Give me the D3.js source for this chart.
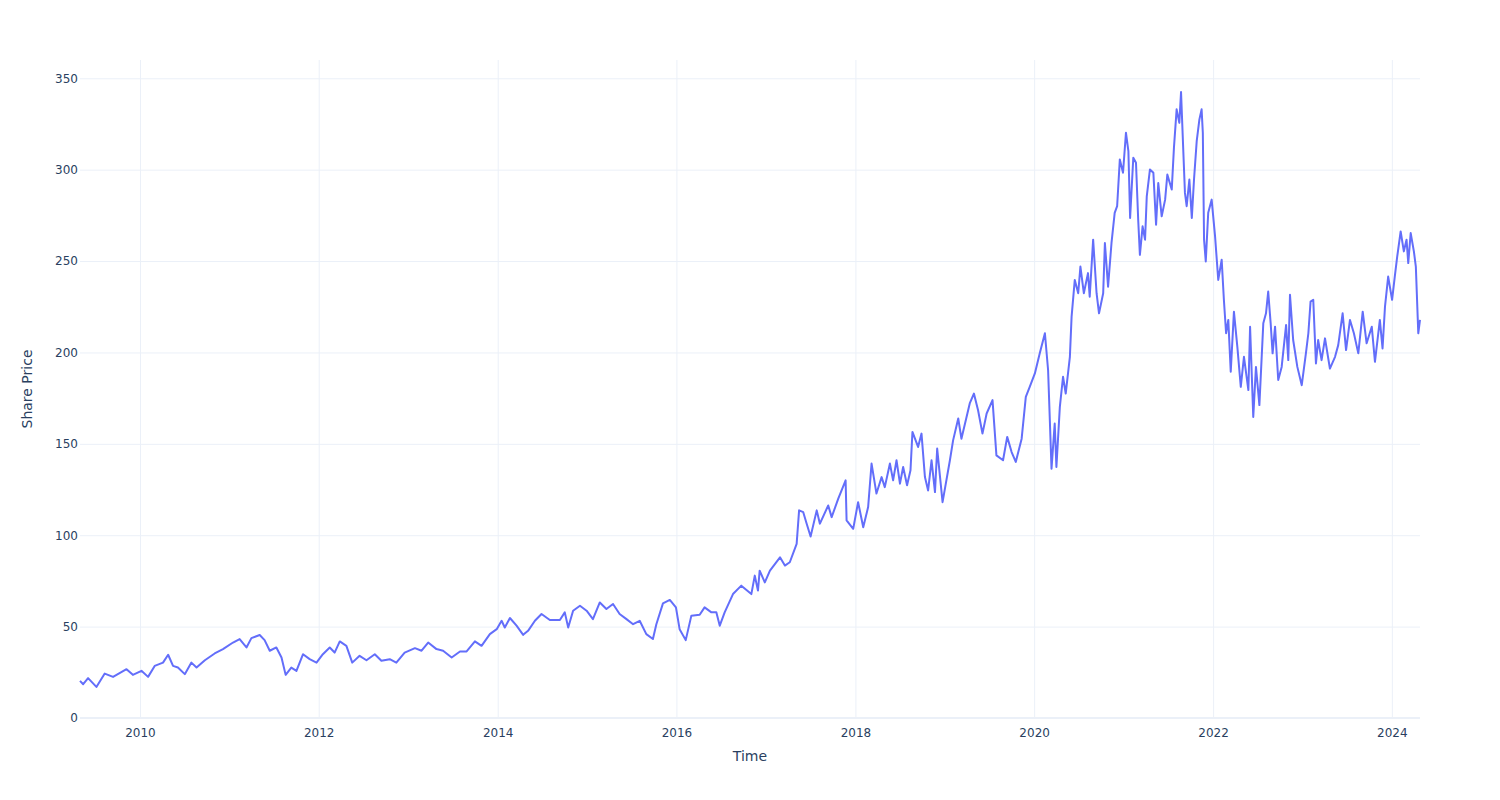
<!DOCTYPE html>
<html>
<head>
<meta charset="utf-8">
<script src="https://cdn.jsdelivr.net/npm/d3@7"></script>
<style>
  html, body { margin: 0; padding: 0; background: #fff; }
  svg { display: block; font-family: "DejaVu Sans", Verdana, sans-serif; }
</style>
</head>
<body>
<svg id="chart" width="1500" height="800"></svg>
<script>
const dates = [
"2009-05-01","2009-05-14","2009-06-03","2009-07-07","2009-08-10","2009-09-13","2009-11-07","2009-12-03",
"2010-01-07","2010-02-03","2010-03-02","2010-04-05","2010-04-26","2010-05-16","2010-06-05","2010-07-03","2010-07-30","2010-08-20","2010-09-23","2010-11-02","2010-12-06",
"2011-01-16","2011-02-12","2011-03-12","2011-04-01","2011-05-05","2011-05-25","2011-06-15","2011-07-12","2011-08-02","2011-08-19","2011-09-11","2011-10-02","2011-10-29","2011-11-25","2011-12-23",
"2012-01-18","2012-02-15","2012-03-06","2012-03-27","2012-04-23","2012-05-17","2012-06-16","2012-07-14","2012-08-17","2012-09-13","2012-10-17","2012-11-13","2012-12-17",
"2013-01-28","2013-02-24","2013-03-23","2013-04-26","2013-05-23","2013-06-27","2013-07-31","2013-08-27","2013-09-30","2013-10-27","2013-11-30","2013-12-28",
"2014-01-17","2014-01-30","2014-02-20","2014-03-19","2014-04-15","2014-05-05","2014-06-02","2014-06-29","2014-08-02","2014-09-12","2014-10-02","2014-10-16","2014-11-05","2014-12-03","2014-12-30",
"2015-01-25","2015-02-22","2015-03-21","2015-04-17","2015-05-14","2015-06-11","2015-07-08","2015-08-04","2015-08-31","2015-09-27","2015-10-11","2015-11-07","2015-12-05","2015-12-30",
"2016-01-14","2016-02-08","2016-03-02","2016-04-05","2016-04-25","2016-05-23","2016-06-12","2016-06-26","2016-07-16","2016-08-19","2016-09-22","2016-11-02","2016-11-16","2016-11-29","2016-12-06","2016-12-27",
"2017-01-17","2017-02-27","2017-03-19","2017-04-08","2017-05-06","2017-05-16","2017-06-02","2017-06-16","2017-07-02","2017-07-27","2017-08-09","2017-09-12","2017-09-26","2017-10-23","2017-11-22","2017-11-26","2017-12-23",
"2018-01-12","2018-02-02","2018-02-22","2018-03-08","2018-03-28","2018-04-18","2018-05-01","2018-05-22","2018-06-04","2018-06-18","2018-07-02","2018-07-15","2018-07-31","2018-08-14","2018-08-22","2018-09-14","2018-09-28","2018-10-12","2018-10-25","2018-11-08","2018-11-22","2018-12-01","2018-12-23",
"2019-01-22","2019-02-04","2019-02-25","2019-03-10","2019-03-31","2019-04-13","2019-04-30","2019-05-17","2019-06-04","2019-06-21","2019-07-15","2019-07-31","2019-08-27","2019-09-13","2019-10-01","2019-10-18","2019-11-11","2019-11-28","2019-12-14",
"2020-01-04","2020-01-24","2020-02-14","2020-02-27","2020-03-12","2020-03-25","2020-04-01","2020-04-15","2020-04-28","2020-05-09","2020-05-26","2020-06-02","2020-06-15","2020-06-29","2020-07-08","2020-07-22","2020-08-08","2020-08-15","2020-08-29","2020-09-12","2020-09-22","2020-10-09","2020-10-16","2020-10-29","2020-11-12","2020-11-25","2020-12-05","2020-12-16","2020-12-29",
"2021-01-10","2021-01-20","2021-01-27","2021-02-09","2021-02-20","2021-03-01","2021-03-08","2021-03-19","2021-03-29","2021-04-05","2021-04-18","2021-05-02","2021-05-13","2021-05-22","2021-06-05","2021-06-19","2021-06-28","2021-07-16","2021-07-25","2021-08-05","2021-08-16","2021-08-23","2021-09-01","2021-09-08","2021-09-15","2021-09-26","2021-10-06","2021-10-15","2021-10-26","2021-11-06","2021-11-15","2021-11-20","2021-11-25","2021-12-02","2021-12-12","2021-12-26",
"2022-01-09","2022-01-22","2022-02-05","2022-02-14","2022-02-23","2022-03-04","2022-03-14","2022-03-27","2022-04-10","2022-04-24","2022-05-07","2022-05-25","2022-06-01","2022-06-14","2022-06-25","2022-07-09","2022-07-25","2022-08-05","2022-08-14","2022-08-24","2022-09-01","2022-09-11","2022-09-24","2022-10-08","2022-10-26","2022-11-04","2022-11-11","2022-11-24","2022-12-11","2022-12-29",
"2023-01-15","2023-01-25","2023-02-03","2023-02-14","2023-02-25","2023-03-06","2023-03-20","2023-04-03","2023-04-23","2023-05-14","2023-05-27","2023-06-14","2023-06-28","2023-07-14","2023-07-30","2023-08-17","2023-09-04","2023-09-20","2023-10-11","2023-10-24","2023-11-13","2023-11-24","2023-12-04","2023-12-17",
"2024-01-02","2024-01-13","2024-01-23","2024-02-06","2024-02-19","2024-03-01","2024-03-08","2024-03-18","2024-03-31","2024-04-08","2024-04-18","2024-04-25"
];

const prices = [
20.3,18.5,21.8,17,24.3,22.5,26.7,23.6,
25.8,22.5,28.5,30.3,34.6,28.5,27.6,24,30.3,27.6,31.6,35.3,37.7,
41.3,43.2,38.6,43.7,45.4,42.6,36.8,38.6,33.1,23.6,27.6,25.8,34.9,32.2,30.3,
34.9,38.6,35.8,41.9,39.5,30.3,34,31.6,34.9,31.3,32.2,30.3,35.8,
38.2,36.8,41.3,37.7,36.8,33.1,36.4,36.4,41.9,39.5,45.9,48.6,
53.2,49.5,54.7,50.5,45.5,47.7,53.2,56.9,53.6,53.6,57.8,49.5,58.7,61.4,58.7,
54.1,63.2,59.6,62.4,56.9,54.1,51.3,53.2,45.9,43.2,51.3,62.7,64.6,60.5,
48.6,42.6,56,56.5,60.5,57.8,57.8,50.5,57.8,67.8,72.4,67.8,77.9,69.7,80.6,74.2,
80.6,87.9,83.4,85.2,95.3,113.6,112.6,106.3,99.3,113.6,106.3,116.3,109.9,120,130,108.1,103.5,
118.1,104.4,115.4,139.2,122.8,131.8,126.3,139.2,130,141,128.2,137.3,127.3,135.5,156.5,148.3,155.6,131.8,124.5,141,123.6,147.4,118.1,
141,151.9,163.9,152.8,164.7,172.1,177.5,168.4,155.6,166.6,173.9,143.7,141,153.8,145.5,140.1,152.8,175.7,181.2,
188.5,199.5,210.5,190.4,136.4,161.1,137.3,170.2,186.7,177.5,197.6,219.6,239.7,232.4,247,232.4,243.4,230.5,261.7,232.4,221.4,232.4,259.9,236,259.9,276.4,280,305.6,298.3,
320.2,310.1,273.6,306.5,303.8,272.6,253.4,269,261.7,285.4,300.1,298.3,269.9,292.7,274.5,283.6,297.3,289.1,311.9,333,325.6,342.5,311,287.3,280,294.6,273.6,294.6,315.6,327.5,333,320.2,261.7,249.8,276.4,283.6,
263.5,239.7,250.7,228.8,210.5,217.8,189.4,222.3,203.1,181.2,197.6,179.4,214.1,164.7,192.1,171.2,216,221.4,233.3,216,199.5,214.1,184.9,192.1,215,195.8,231.5,206.8,192.1,182.1,
199.5,210.5,227.8,228.8,194,206.8,195.8,207.7,191.2,197.6,204,221.4,201.3,217.8,210.5,199.5,222.3,205,214.1,194.9,217.8,202.2,225.1,241.5,
228.8,241.5,252.5,266.2,255.3,261.7,248.9,265.3,255.3,247,210.5,217.8
];

const yTicks = [0, 50, 100, 150, 200, 250, 300, 350];
const xTickYears = [2010, 2012, 2014, 2016, 2018, 2020, 2022, 2024];
const xTitle = "Time";
const yTitle = "Share Price";

const parse = d3.timeParse("%Y-%m-%d");
const data = dates.map((d, i) => ({ date: parse(d), value: prices[i] }));

const W = 1500, H = 800;
const margin = { left: 80, right: 80, top: 60, bottom: 82 };
const plotW = W - margin.left - margin.right;
const plotH = H - margin.top - margin.bottom;

const svg = d3.select("#chart");
svg.append("rect").attr("width", W).attr("height", H).attr("fill", "#fff");

const x = d3.scaleTime()
  .domain(d3.extent(data, d => d.date))
  .range([0, plotW]);
const y = d3.scaleLinear()
  .domain([0, 360])
  .range([plotH, 0]);

const g = svg.append("g").attr("transform", `translate(${margin.left},${margin.top})`);

const tickColor = "#2a3f5f";
const gridColor = "#ebf0f8";

// vertical grid
const xTickDates = xTickYears.map(yr => new Date(yr, 0, 1));
const xGrid = d3.axisBottom(x).tickValues(xTickDates).tickSize(-plotH).tickFormat("");
g.append("g").attr("transform", `translate(0,${plotH})`).call(xGrid)
  .call(s => s.select(".domain").remove())
  .call(s => s.selectAll("line").attr("stroke", gridColor).attr("stroke-width", 1));

// horizontal grid
const yGrid = d3.axisLeft(y).tickValues(yTicks.filter(v => v !== 0)).tickSize(-plotW).tickFormat("");
g.append("g").call(yGrid)
  .call(s => s.select(".domain").remove())
  .call(s => s.selectAll("line").attr("stroke", gridColor).attr("stroke-width", 1));

// zero line
g.append("line")
  .attr("x1", 0).attr("x2", plotW)
  .attr("y1", y(0)).attr("y2", y(0))
  .attr("stroke", gridColor).attr("stroke-width", 2);

// x axis labels
const xAxis = d3.axisBottom(x).tickValues(xTickDates).tickSize(0).tickPadding(10)
  .tickFormat(d3.timeFormat("%Y"));
g.append("g").attr("transform", `translate(0,${plotH})`).call(xAxis)
  .call(s => s.select(".domain").remove())
  .call(s => s.selectAll("text").attr("fill", tickColor).style("font-size", "12px")
    .style("font-family", "'DejaVu Sans', Verdana, sans-serif"));

// y axis labels
const yAxis = d3.axisLeft(y).tickValues(yTicks).tickSize(0).tickPadding(2)
  .tickFormat(d3.format("d"));
g.append("g").call(yAxis)
  .call(s => s.select(".domain").remove())
  .call(s => s.selectAll("text").attr("fill", tickColor).style("font-size", "12px")
    .style("font-family", "'DejaVu Sans', Verdana, sans-serif"));

// line
const line = d3.line().x(d => x(d.date)).y(d => y(d.value));
g.append("path").datum(data)
  .attr("fill", "none")
  .attr("stroke", "#636efa")
  .attr("stroke-width", 2)
  .attr("stroke-linejoin", "round")
  .attr("d", line);

// titles
svg.append("text")
  .attr("x", margin.left + plotW / 2).attr("y", 761)
  .attr("text-anchor", "middle")
  .attr("fill", tickColor).style("font-size", "14px")
  .text(xTitle);

svg.append("text")
  .attr("transform", `translate(32,${margin.top + plotH / 2}) rotate(-90)`)
  .attr("text-anchor", "middle")
  .attr("fill", tickColor).style("font-size", "14px")
  .text(yTitle);
</script>
</body>
</html>
